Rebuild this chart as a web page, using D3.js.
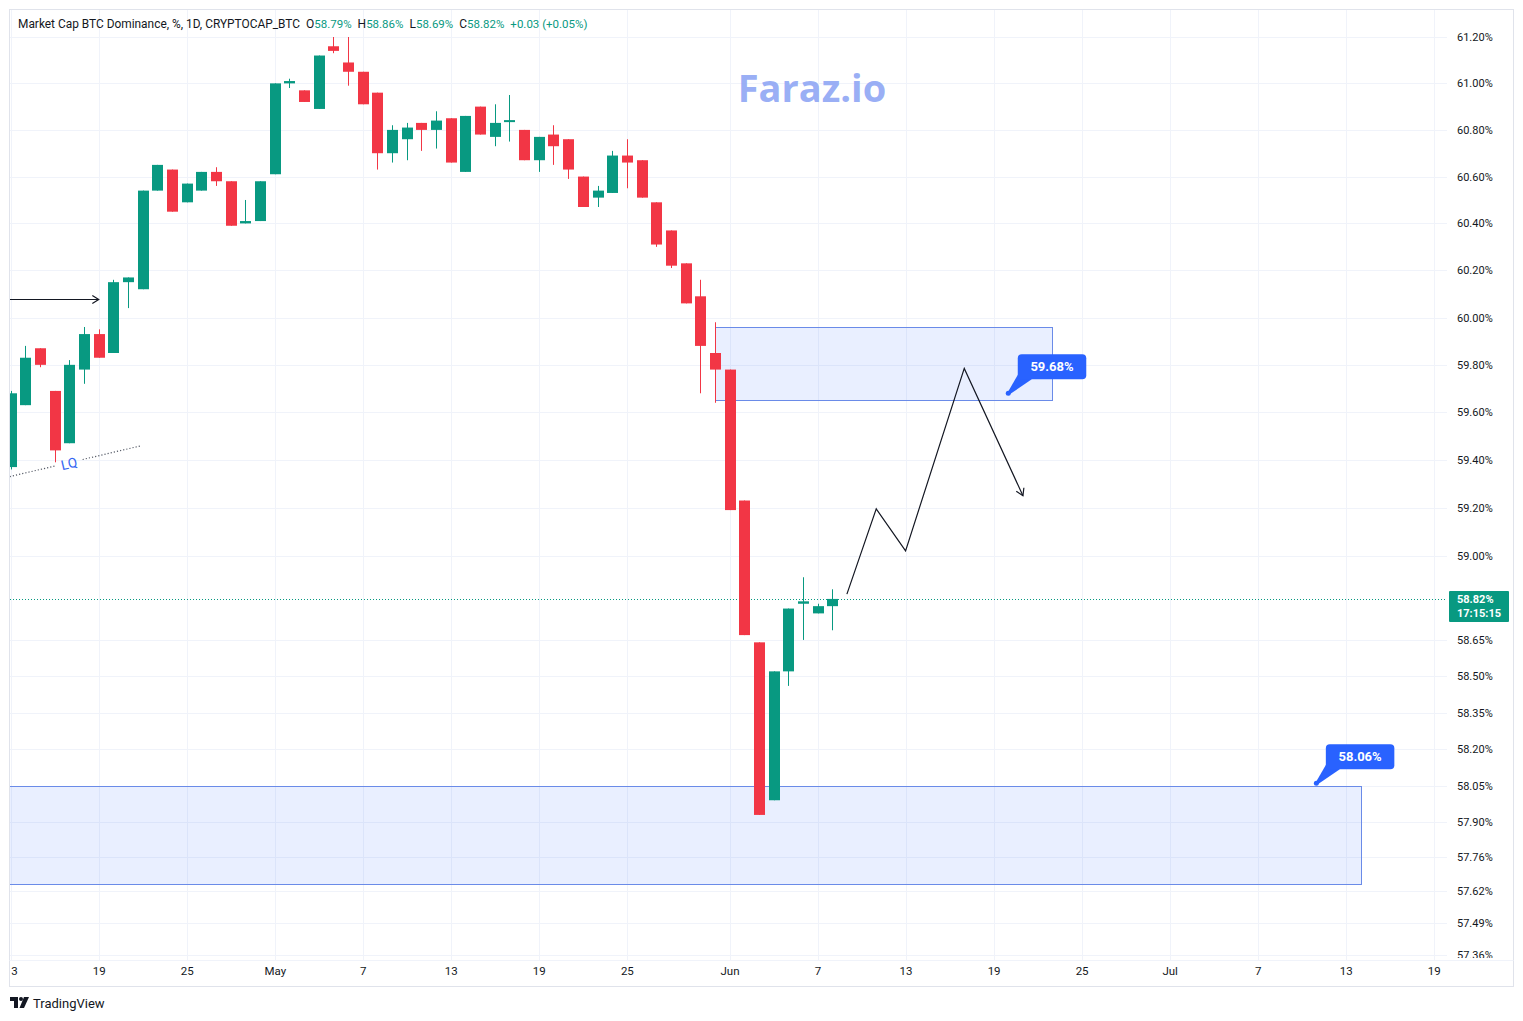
<!DOCTYPE html>
<html>
<head>
<meta charset="utf-8">
<script src="https://cdn.jsdelivr.net/npm/d3@7"></script>
<style>
  html, body { margin: 0; padding: 0; background: #ffffff; }
  svg { display: block; }
  text { font-family: Roboto, "Liberation Sans", Arial, sans-serif; }
</style>
</head>
<body>
<svg id="chart" width="1523" height="1021"></svg>
<script>
// ---------------- DATA ----------------
const dates = [
  "2025-04-13","2025-04-14","2025-04-15","2025-04-16","2025-04-17","2025-04-18","2025-04-19",
  "2025-04-20","2025-04-21","2025-04-22","2025-04-23","2025-04-24","2025-04-25","2025-04-26",
  "2025-04-27","2025-04-28","2025-04-29","2025-04-30","2025-05-01","2025-05-02","2025-05-03",
  "2025-05-04","2025-05-05","2025-05-06","2025-05-07","2025-05-08","2025-05-09","2025-05-10",
  "2025-05-11","2025-05-12","2025-05-13","2025-05-14","2025-05-15","2025-05-16","2025-05-17",
  "2025-05-18","2025-05-19","2025-05-20","2025-05-21","2025-05-22","2025-05-23","2025-05-24",
  "2025-05-25","2025-05-26","2025-05-27","2025-05-28","2025-05-29","2025-05-30","2025-05-31",
  "2025-06-01","2025-06-02","2025-06-03","2025-06-04","2025-06-05","2025-06-06","2025-06-07",
  "2025-06-08"
];
const open = [
  59.37,59.63,59.87,59.69,59.47,59.78,59.93,
  59.85,60.15,60.12,60.54,60.63,60.49,60.54,
  60.62,60.58,60.40,60.41,60.61,61.00,60.97,
  60.89,61.16,61.09,61.05,60.96,60.70,60.76,
  60.83,60.80,60.85,60.62,60.90,60.77,60.838,
  60.80,60.67,60.78,60.76,60.60,60.51,60.53,
  60.69,60.67,60.49,60.37,60.23,60.09,59.85,
  59.78,59.23,58.64,57.99,58.52,58.80,58.76,
  58.79
];
const high = [
  59.69,59.88,59.87,59.69,59.82,59.96,59.95,
  60.16,60.17,60.54,60.65,60.63,60.57,60.62,
  60.64,60.58,60.50,60.58,61.00,61.02,60.97,
  61.12,61.20,61.20,61.05,60.96,60.82,60.83,
  60.83,60.88,60.85,60.86,60.90,60.91,60.95,
  60.80,60.77,60.82,60.76,60.60,60.56,60.71,
  60.76,60.67,60.49,60.37,60.23,60.16,59.98,
  59.78,59.23,58.64,58.52,58.78,58.91,58.80,
  58.86
];
const low = [
  59.36,59.63,59.79,59.39,59.47,59.72,59.83,
  59.85,60.04,60.12,60.54,60.45,60.49,60.54,
  60.56,60.39,60.40,60.41,60.61,60.98,60.92,
  60.89,61.13,60.99,60.91,60.63,60.66,60.67,
  60.71,60.72,60.66,60.62,60.78,60.73,60.75,
  60.67,60.62,60.65,60.59,60.47,60.47,60.53,
  60.55,60.51,60.30,60.21,60.06,59.68,59.64,
  59.19,58.67,57.93,57.99,58.46,58.65,58.76,
  58.69
];
const close = [
  59.68,59.83,59.80,59.44,59.80,59.93,59.83,
  60.15,60.17,60.54,60.65,60.45,60.57,60.62,
  60.58,60.39,60.41,60.58,61.00,61.01,60.92,
  61.12,61.14,61.05,60.91,60.70,60.80,60.81,
  60.80,60.84,60.66,60.86,60.78,60.83,60.842,
  60.67,60.77,60.73,60.63,60.47,60.54,60.69,
  60.66,60.51,60.31,60.22,60.06,59.88,59.78,
  59.19,58.67,57.93,58.52,58.78,58.81,58.79,
  58.82
];

const yTickValues = [61.20,61.00,60.80,60.60,60.40,60.20,60.00,59.80,59.60,59.40,59.20,59.00,
                     58.65,58.50,58.35,58.20,58.05,57.90,57.76,57.62,57.49,57.36];
const xTickDates = ["2025-04-13","2025-04-19","2025-04-25","2025-05-01","2025-05-07","2025-05-13",
                    "2025-05-19","2025-05-25","2025-06-01","2025-06-07","2025-06-13","2025-06-19",
                    "2025-06-25","2025-07-01","2025-07-07","2025-07-13","2025-07-19"];
const xTickLabels = ["13","19","25","May","7","13","19","25","Jun","7","13","19","25","Jul","7","13","19"];

const lastPrice = 58.82;
const countdown = "17:15:15";

// Drawings (date / value anchors)
const zoneUpper = { from: "2025-05-31", to: "2025-06-23", top: 59.96, bottom: 59.65 };
const zoneLower = { from: "2025-04-01", to: "2025-07-14", top: 58.05, bottom: 57.65 };
const calloutDates  = ["2025-06-20", "2025-07-11"];
const calloutValues = [59.68, 58.06];
const calloutTexts  = ["59.68%", "58.06%"];
const pathDates  = ["2025-06-09","2025-06-11","2025-06-13","2025-06-17","2025-06-21"];
const pathValues = [58.84, 59.195, 59.02, 59.785, 59.25];
const arrowDates  = ["2025-04-10","2025-04-19"];
const arrowValues = [60.08, 60.08];
const lqDates  = ["2025-04-13","2025-04-22"];
const lqValues = [59.33, 59.46];

const headerTitle = "Market Cap BTC Dominance, %, 1D, CRYPTOCAP_BTC";
const headerOHLC = [["O","58.79%"],["H","58.86%"],["L","58.69%"],["C","58.82%"]];
const headerChange = "+0.03 (+0.05%)";

// ---------------- LAYOUT ----------------
const W = 1523, H = 1021;
const plot = { left: 10, top: 10, right: 1447, bottom: 960 };
const UP = "#089981", DOWN = "#f23645", GRID = "#f0f3fa", TXT = "#131722";
const parse = d3.utcParse("%Y-%m-%d");

const svg = d3.select("#chart");
svg.append("rect").attr("width", W).attr("height", H).attr("fill", "#fff");

const x = d3.scaleUtc()
  .domain([parse("2025-04-13"), parse("2025-07-19")])
  .range([10.7, 1433.7]);
const y = d3.scaleLog()
  .domain([57.36, 61.2])
  .range([955, 37]);

const defs = svg.append("defs");
defs.append("clipPath").attr("id", "plotClip").append("rect")
  .attr("x", plot.left).attr("y", plot.top)
  .attr("width", plot.right - plot.left).attr("height", plot.bottom - plot.top);
defs.append("clipPath").attr("id", "xAxisClip").append("rect")
  .attr("x", plot.left).attr("y", plot.bottom).attr("width", plot.right - plot.left).attr("height", 26);
defs.append("clipPath").attr("id", "yAxisClip").append("rect")
  .attr("x", plot.right).attr("y", plot.top).attr("width", 66).attr("height", 948);

// grid
const grid = svg.append("g").attr("clip-path", "url(#plotClip)");
grid.selectAll("line.h").data(yTickValues).enter().append("line")
  .attr("x1", plot.left).attr("x2", plot.right)
  .attr("y1", d => Math.round(y(d)) + 0.5).attr("y2", d => Math.round(y(d)) + 0.5)
  .attr("stroke", GRID).attr("stroke-width", 1);
grid.selectAll("line.v").data(xTickDates).enter().append("line")
  .attr("y1", plot.top).attr("y2", plot.bottom)
  .attr("x1", d => Math.round(x(parse(d))) + 0.5).attr("x2", d => Math.round(x(parse(d))) + 0.5)
  .attr("stroke", GRID).attr("stroke-width", 1);

const plotG = svg.append("g").attr("clip-path", "url(#plotClip)");

// zones
function zone(z) {
  const x0 = x(parse(z.from)), x1 = x(parse(z.to));
  plotG.append("rect")
    .attr("x", Math.round(x0) + 0.5).attr("y", Math.round(y(z.top)) + 0.5)
    .attr("width", Math.round(x1 - x0)).attr("height", Math.round(y(z.bottom) - y(z.top)))
    .attr("fill", "rgba(41,98,255,0.1)")
    .attr("stroke", "#6a8be8").attr("stroke-width", 1);
}
zone(zoneUpper);
zone(zoneLower);

// price line
plotG.append("line")
  .attr("x1", plot.left).attr("x2", plot.right)
  .attr("y1", Math.round(y(lastPrice)) + 0.5).attr("y2", Math.round(y(lastPrice)) + 0.5)
  .attr("stroke", UP).attr("stroke-width", 1).attr("stroke-dasharray", "1,2");

// candles
const candles = dates.map((d, i) => ({ date: parse(d), o: open[i], h: high[i], l: low[i], c: close[i] }));
const bodyW = 11;
const cg = plotG.append("g");
cg.selectAll("line.wick").data(candles).enter().append("line")
  .attr("x1", d => Math.round(x(d.date)) + 0.5).attr("x2", d => Math.round(x(d.date)) + 0.5)
  .attr("y1", d => y(d.h)).attr("y2", d => y(d.l))
  .attr("stroke", d => d.c >= d.o ? UP : DOWN).attr("stroke-width", 1);
cg.selectAll("rect.body").data(candles).enter().append("rect")
  .attr("x", d => Math.round(x(d.date)) - (bodyW - 1) / 2)
  .attr("y", d => y(Math.max(d.o, d.c)))
  .attr("width", bodyW)
  .attr("height", d => Math.max(2, Math.abs(y(d.o) - y(d.c))))
  .attr("fill", d => d.c >= d.o ? UP : DOWN);

// projection path
const pathPts = pathDates.map((d, i) => [x(parse(d)), y(pathValues[i])]);
plotG.append("path")
  .attr("d", d3.line()(pathPts))
  .attr("fill", "none").attr("stroke", "#131722").attr("stroke-width", 1.2);
function arrowHead(p0, p1, len) {
  const a = Math.atan2(p1[1] - p0[1], p1[0] - p0[0]);
  const l = [p1[0] - len * Math.cos(a - 0.55), p1[1] - len * Math.sin(a - 0.55)];
  const r = [p1[0] - len * Math.cos(a + 0.55), p1[1] - len * Math.sin(a + 0.55)];
  plotG.append("path").attr("d", d3.line()([l, p1, r]))
    .attr("fill", "none").attr("stroke", "#131722").attr("stroke-width", 1.2);
}
arrowHead(pathPts[3], pathPts[4], 8);

// horizontal arrow
const arrPts = arrowDates.map((d, i) => [x(parse(d)), Math.round(y(arrowValues[i])) + 0.5]);
plotG.append("path").attr("d", d3.line()(arrPts))
  .attr("fill", "none").attr("stroke", "#131722").attr("stroke-width", 1.2);
arrowHead(arrPts[0], arrPts[1], 7.5);

// LQ dotted line with text
const lqPts = lqDates.map((d, i) => [x(parse(d)) - 1, y(lqValues[i])]);
const lqAngle = Math.atan2(lqPts[1][1] - lqPts[0][1], lqPts[1][0] - lqPts[0][0]);
const lqT = (69 - lqPts[0][0]) / (lqPts[1][0] - lqPts[0][0]);
const lqC = [lqPts[0][0] + lqT * (lqPts[1][0] - lqPts[0][0]), lqPts[0][1] + lqT * (lqPts[1][1] - lqPts[0][1])];
const gapHalf = 14;
const gA = [lqC[0] - gapHalf * Math.cos(lqAngle), lqC[1] - gapHalf * Math.sin(lqAngle)];
const gB = [lqC[0] + gapHalf * Math.cos(lqAngle), lqC[1] + gapHalf * Math.sin(lqAngle)];
[[lqPts[0], gA], [gB, lqPts[1]]].forEach(seg => {
  plotG.append("path").attr("d", d3.line()(seg))
    .attr("fill", "none").attr("stroke", "#555a66").attr("stroke-width", 1.2)
    .attr("stroke-dasharray", "1.2,2");
});
plotG.append("text")
  .attr("transform", `translate(${lqC[0]},${lqC[1] + 1}) rotate(${lqAngle * 180 / Math.PI})`)
  .attr("text-anchor", "middle").attr("dy", "0.35em")
  .attr("font-size", 13.5).attr("fill", "#3465f2").text("LQ");

// callouts
calloutDates.forEach((d, i) => {
  const px = x(parse(d)), py = y(calloutValues[i]);
  const rx = px + 9.5, ry = py - 14 - 25, rw = 68.5, rh = 25;
  const g = plotG.append("g");
  g.append("path")
    .attr("d", d3.line()([[rx + 1, ry + rh - 6], [rx + 14, ry + rh], [px + 1.5, py + 1], [px - 0.5, py - 1]]))
    .attr("fill", "#2962ff");
  g.append("rect").attr("x", rx).attr("y", ry).attr("width", rw).attr("height", rh)
    .attr("rx", 4).attr("fill", "#2962ff");
  g.append("circle").attr("cx", px).attr("cy", py).attr("r", 2.5).attr("fill", "#2962ff");
  g.append("text").attr("x", rx + rw / 2).attr("y", ry + rh / 2).attr("dy", "0.36em")
    .attr("text-anchor", "middle").attr("font-size", 13).attr("font-weight", 700)
    .attr("fill", "#fff").text(calloutTexts[i]);
});

// watermark
svg.append("text").attr("x", 812).attr("y", 102)
  .attr("text-anchor", "middle")
  .style("font-family", "'Open Sans', 'DejaVu Sans', sans-serif")
  .attr("font-size", 38).attr("font-weight", 700)
  .attr("fill", "#94aaf5").attr("fill-opacity", 0.95).text("Faraz.io");

// frame lines
svg.append("rect").attr("x", 9.5).attr("y", 9.5).attr("width", 1504).attr("height", 977)
  .attr("fill", "none").attr("stroke", "#e0e3eb");
svg.append("line").attr("x1", 9.5).attr("x2", 1513.5).attr("y1", plot.bottom + 0.5).attr("y2", plot.bottom + 0.5)
  .attr("stroke", "#f0f3fa");

// y axis
const yAxisG = svg.append("g").attr("clip-path", "url(#yAxisClip)")
  .append("g").attr("transform", `translate(${plot.right},0)`)
  .call(d3.axisRight(y).tickValues(yTickValues).tickSize(0).tickPadding(10)
    .tickFormat(d => d.toFixed(2) + "%"));
yAxisG.select(".domain").remove();
yAxisG.selectAll("text").attr("font-size", 11).attr("fill", TXT)
  .style("font-family", "Roboto, 'Liberation Sans', Arial, sans-serif");

// price label on axis
const pY = y(lastPrice);
svg.append("rect").attr("x", 1449).attr("y", Math.round(pY) - 8).attr("width", 60).attr("height", 31)
  .attr("rx", 1).attr("fill", UP);
svg.append("text").attr("x", 1457).attr("y", pY).attr("dy", "0.36em")
  .attr("font-size", 11).attr("font-weight", 700).attr("fill", "#fff").text(lastPrice.toFixed(2) + "%");
svg.append("text").attr("x", 1457).attr("y", pY + 14).attr("dy", "0.36em")
  .attr("font-size", 11).attr("font-weight", 700).attr("fill", "#fff").text(countdown);

// x axis
const xAxisG = svg.append("g").attr("clip-path", "url(#xAxisClip)")
  .append("g").attr("transform", `translate(0,${plot.bottom})`)
  .call(d3.axisBottom(x).tickValues(xTickDates.map(parse)).tickSize(0).tickPadding(7)
    .tickFormat((d, i) => xTickLabels[i]));
xAxisG.select(".domain").remove();
xAxisG.selectAll("text").attr("font-size", 11.5).attr("fill", TXT)
  .style("font-family", "Roboto, 'Liberation Sans', Arial, sans-serif");

// header legend
const hdr = svg.append("text").attr("x", 18).attr("y", 28).attr("font-size", 12).attr("fill", TXT);
hdr.append("tspan").attr("textLength", 282).attr("lengthAdjust", "spacingAndGlyphs").text(headerTitle);
headerOHLC.forEach(([k, v], i) => {
  hdr.append("tspan").attr("dx", 6).attr("fill", TXT).text(k);
  hdr.append("tspan").attr("fill", UP).attr("font-size", 11.5).text(v);
});
hdr.append("tspan").attr("dx", 6).attr("fill", UP).attr("font-size", 11.5).text(headerChange);

// TradingView footer
const logo = svg.append("g").attr("transform", "translate(10,997)");
logo.append("path").attr("d", "M0,0 H8 V11 H4 V4 H0 Z").attr("fill", TXT);
logo.append("circle").attr("cx", 11).attr("cy", 2).attr("r", 2).attr("fill", TXT);
logo.append("path").attr("d", "M14,0 H19 L14,11 H9.5 Z").attr("fill", TXT);
svg.append("text").attr("x", 33).attr("y", 1008).attr("font-size", 13).attr("fill", TXT).text("TradingView");
</script>
</body>
</html>
